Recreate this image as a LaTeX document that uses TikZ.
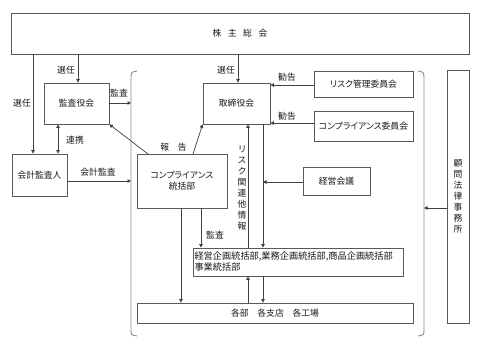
\documentclass[tikz,border=0pt]{standalone}
\usepackage{fontspec}
\setmainfont{Noto Sans CJK JP}[RawFeature=+palt]
\usetikzlibrary{arrows.meta}
\begin{document}
\begin{tikzpicture}[x=1pt,y=-1pt,
  every node/.style={font=\fontsize{8.8}{10}\selectfont, text=black!90},
  box/.style={draw=black!65, line width=0.8pt, inner sep=0pt, align=center},
  arr/.style={draw=black!75, line width=0.7pt, -{Triangle[length=3.5pt,width=3.5pt]}},
  darr/.style={draw=black!75, line width=0.7pt, {Triangle[length=3.5pt,width=3.5pt]}-{Triangle[length=3.5pt,width=3.5pt]}},
  ln/.style={draw=black!75, line width=0.7pt},
  brk/.style={draw=black!45, line width=0.9pt},
  lbl/.style={inner sep=0pt},
  vtext/.style={inner sep=0pt, align=center, font=\fontsize{8.8}{11}\selectfont}]
\useasboundingbox (0,0) rectangle (480,351);
\fill[white] (0,0) rectangle (480,351);

% boxes
\node[box, minimum width=458, minimum height=41] (kabu) at (240,33.5) {株\hspace{6.5pt}主\hspace{6.5pt}総\hspace{6.5pt}会};
\node[box, minimum width=65, minimum height=41] (kansa) at (76.5,103.5) {監査役会};
\node[box, minimum width=55, minimum height=42] (kaikei) at (39.5,175) {会計監査人};
\node[box, minimum width=67, minimum height=41] (tori) at (236.5,103.5) {取締役会};
\node[box, minimum width=99, minimum height=26] (risk) at (363.5,84) {リスク管理委員会};
\node[box, minimum width=99, minimum height=30] (comp) at (363.5,126) {コンプライアンス委員会};
\node[box, minimum width=67, minimum height=28] (keiei) at (336.5,181) {経営会議};
\node[box, minimum width=90, minimum height=54, font=\fontsize{8.8}{11}\selectfont] (compbu) at (182,181) {コンプライアンス\\統括部};
\node[box, minimum width=210, minimum height=28, text width=207, align=left, font=\fontsize{9.2}{11}\selectfont] (kikaku) at (298,262) {経営企画統括部,業務企画統括部,商品企画統括部\\事業統括部};
\node[box, minimum width=276, minimum height=20] (kakubu) at (275,313) {各部　各支店　各工場};
\node[box, minimum width=22, minimum height=253] (komon) at (458,196.5) {};
\node[vtext] (komontxt) at (458,196) {顧\\問\\法\\律\\事\\務\\所};

% brackets
\draw[brk] (137,71) .. controls (131,72) .. (131,80) -- (131,329) .. controls (131,335) .. (137,336);
\draw[brk] (418,71) .. controls (424,72) .. (424,80) -- (424,329) .. controls (424,335) .. (418,336);

% helper coordinates
\coordinate (xA) at (33,0);
\coordinate (xB) at (78,0);
\coordinate (xC) at (238,0);
\coordinate (xL) at (131,0);
\coordinate (xR) at (424,0);
\coordinate (xD) at (58,0);
\coordinate (xE) at (263,0);
\coordinate (xF) at (248,0);
\coordinate (xG) at (201,0);
\coordinate (xH) at (181,0);
\coordinate (yK) at (0,103);
\coordinate (yM) at (0,181);
\coordinate (yS) at (0,208);
\coordinate (yR1) at (0,85);
\coordinate (yR2) at (0,123);
\coordinate (yKe) at (0,182);

% selection arrows
\draw[arr] (kabu.south -| xA) -- (kaikei.north -| xA);
\node[lbl] (l1) at (22,103) {選任};
\draw[arr] (kabu.south -| xB) -- (kansa.north -| xB);
\node[lbl] (l2) at (66,70) {選任};
\draw[arr] (kabu.south -| xC) -- (tori.north -| xC);
\node[lbl] (l3) at (226,70) {選任};

% audit arrows to bracket
\draw[arr] (kansa.east |- yK) -- (xL |- yK);
\node[lbl] (l4) at (119,93) {監査};
\draw[arr] (kaikei.east |- yM) -- (xL |- yM);
\node[lbl] (l5) at (98,172) {会計監査};

% cooperation
\draw[darr] (kansa.south -| xD) -- (kaikei.north -| xD);
\node[lbl] (l6) at (75,140) {連携};

% recommendations
\draw[arr] (risk.west |- yR1) -- (tori.east |- yR1);
\node[lbl] (l7) at (287,77) {勧告};
\draw[arr] (comp.west |- yR2) -- (tori.east |- yR2);
\node[lbl] (l8) at (287,116) {勧告};

% management meeting
\draw[arr] (keiei.west |- yKe) -- (xE |- yKe);
\draw[arr] (tori.south -| xE) -- (kikaku.north -| xE);
\draw[arr] (kikaku.north -| xF) -- (tori.south -| xF);
\node[vtext] (l9) at (242,188.5) {リ\\ス\\ク\\関\\連\\他\\情\\報};

% compliance division reports
\coordinate (cb1) at (148,154);
\coordinate (cb2) at (193,154);
\draw[arr] (cb1) -- (kansa.south east);
\draw[arr] (cb2) -- (tori.south west);
\node[lbl] (l10) at (173.5,147) {報　告};
\draw[arr] (compbu.south -| xG) -- (kikaku.north -| xG);
\node[lbl] (l11) at (215,235) {監査};
\draw[arr] (compbu.south -| xH) -- (kakubu.north -| xH);

% between divisions and branches
\draw[arr] (kakubu.north -| xF) -- (kikaku.south -| xF);
\draw[arr] (kikaku.south -| xE) -- (kakubu.north -| xE);

% legal advisor
\draw[arr] (komon.west |- yS) -- (xR |- yS);
\end{tikzpicture}
\end{document}
